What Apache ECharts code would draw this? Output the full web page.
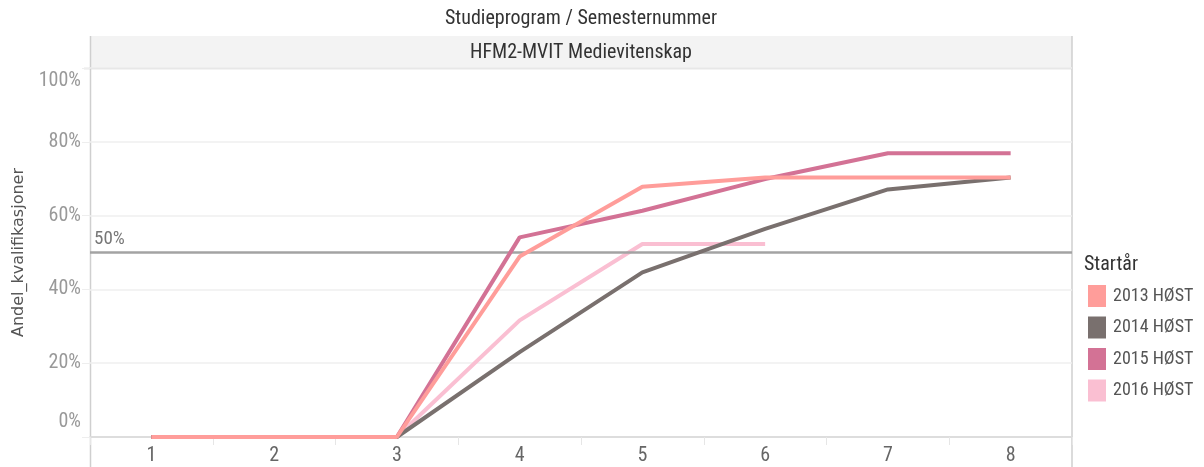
<!DOCTYPE html>
<html>
<head>
<meta charset="utf-8">
<script src="https://cdn.jsdelivr.net/npm/echarts@6/dist/echarts.min.js"></script>
<style>
html,body{margin:0;padding:0;background:#fff;}
#chart{width:1204px;height:467px;}
</style>
</head>
<body>
<div id="chart"></div>
<script>
const categories = ['1', '2', '3', '4', '5', '6', '7', '8'];
const seriesNames = ['2013 HØST', '2014 HØST', '2015 HØST', '2016 HØST'];
const s2013 = [0, 0, 0, 0.489, 0.678, 0.703, 0.703, 0.703];
const s2014 = [0, 0, 0, 0.230, 0.446, 0.564, 0.671, 0.703];
const s2015 = [0, 0, 0, 0.541, 0.613, 0.699, 0.769, 0.769];
const s2016 = [0, 0, 0, 0.316, 0.523, 0.523, null, null];
const referenceValue = 0.5;

const FONT = "'Roboto Condensed', 'Open Sans', sans-serif";
const colors = ['#ff9d9a', '#79706e', '#d37295', '#fabfd2'];
const seriesData = [s2013, s2014, s2015, s2016];
const zOrder = [8, 6, 5, 4];

const chart = echarts.init(document.getElementById('chart'), null, {renderer: 'canvas'});

const series = seriesNames.map((name, i) => ({
  name: name, type: 'line', data: seriesData[i], symbol: 'none', showSymbol: false,
  z: zOrder[i], color: colors[i], itemStyle: {color: colors[i]},
  lineStyle: {width: 4, color: colors[i]}, emphasis: {disabled: true}, animation: false
}));

series.push({
  name: 'ref', type: 'line', data: [], z: 3,
  markLine: {
    silent: true, symbol: ['none', 'none'], animation: false,
    lineStyle: {color: '#a3a3a3', width: 2.5, type: 'solid'},
    label: {show: true, position: 'insideStartTop', formatter: Math.round(referenceValue * 100) + '%',
      fontFamily: FONT, fontSize: 19, color: '#777', distance: [4, 4]},
    data: [{yAxis: referenceValue}]
  }
});

const option = {
  animation: false,
  backgroundColor: '#fff',
  textStyle: {fontFamily: FONT},
  grid: {left: 90, right: 132, top: 68, bottom: 30, containLabel: false, outerBoundsMode: 'none'},
  xAxis: {
    type: 'category', data: categories, boundaryGap: true,
    axisLine: {show: true, lineStyle: {color: '#d6d6d6', width: 1.5}},
    axisTick: {show: true, interval: 0, length: 8, lineStyle: {color: '#e6e6e6', width: 1}},
    axisLabel: {color: '#666', fontSize: 20, fontFamily: FONT, margin: 9, interval: 0},
    splitLine: {show: false}
  },
  yAxis: {
    type: 'value', min: 0, max: 1, interval: 0.2,
    name: 'Andel_kvalifikasjoner', nameLocation: 'middle', nameRotate: 90, nameGap: 63,
    nameTextStyle: {fontFamily: "'DejaVu Sans', sans-serif", fontSize: 16, color: '#555'},
    axisLine: {show: false},
    axisTick: {show: true, length: 8, lineStyle: {color: '#eeeeee'}},
    splitLine: {show: true, lineStyle: {color: '#efefef', width: 1.5}},
    axisLabel: {
      color: '#999', fontSize: 20, fontFamily: FONT, margin: 9,
      formatter: function (v) {
        const t = Math.round(v * 100) + '%';
        if (Math.abs(v - 1) < 1e-9) return '{t|' + t + '}';
        if (Math.abs(v) < 1e-9) return '{b|' + t + '}';
        return t;
      },
      rich: {
        t: {padding: [25, 0, 0, 0], fontSize: 20, fontFamily: FONT, color: '#999'},
        b: {padding: [0, 0, 31, 0], fontSize: 20, fontFamily: FONT, color: '#999'}
      }
    }
  },
  legend: {
    data: seriesNames, orient: 'vertical', left: 1088, top: 285, padding: 0,
    itemWidth: 18, itemHeight: 22, itemGap: 9.5, icon: 'rect', selectedMode: false,
    textStyle: {fontFamily: FONT, fontSize: 18, color: '#555', padding: [0, 0, 0, 2]}
  },
  graphic: [
    {type: 'rect', z: -10, silent: true, shape: {x: 90, y: 36, width: 982, height: 32}, style: {fill: '#f3f3f3'}},
    {type: 'line', z: -5, silent: true, shape: {x1: 84, y1: 68.5, x2: 1072, y2: 68.5}, style: {stroke: '#cfcfcf', lineWidth: 1.5}},
    {type: 'line', z: -5, silent: true, shape: {x1: 90.5, y1: 36, x2: 90.5, y2: 467}, style: {stroke: '#cfcfcf', lineWidth: 1.5}},
    {type: 'line', z: -5, silent: true, shape: {x1: 1072, y1: 36, x2: 1072, y2: 467}, style: {stroke: '#cfcfcf', lineWidth: 1.5}},
    {type: 'text', silent: true, x: 581, y: 19, style: {text: 'Studieprogram / Semesternummer', fontFamily: FONT, fontSize: 20, fill: '#333', align: 'center', verticalAlign: 'middle'}},
    {type: 'text', silent: true, x: 581, y: 53, style: {text: 'HFM2-MVIT Medievitenskap', fontFamily: FONT, fontSize: 20, fill: '#333', align: 'center', verticalAlign: 'middle'}},
    {type: 'text', silent: true, x: 1084, y: 265, style: {text: 'Startår', fontFamily: FONT, fontSize: 20, fill: '#333', align: 'left', verticalAlign: 'middle'}}
  ],
  series: series
};

chart.setOption(option);
</script>
</body>
</html>
